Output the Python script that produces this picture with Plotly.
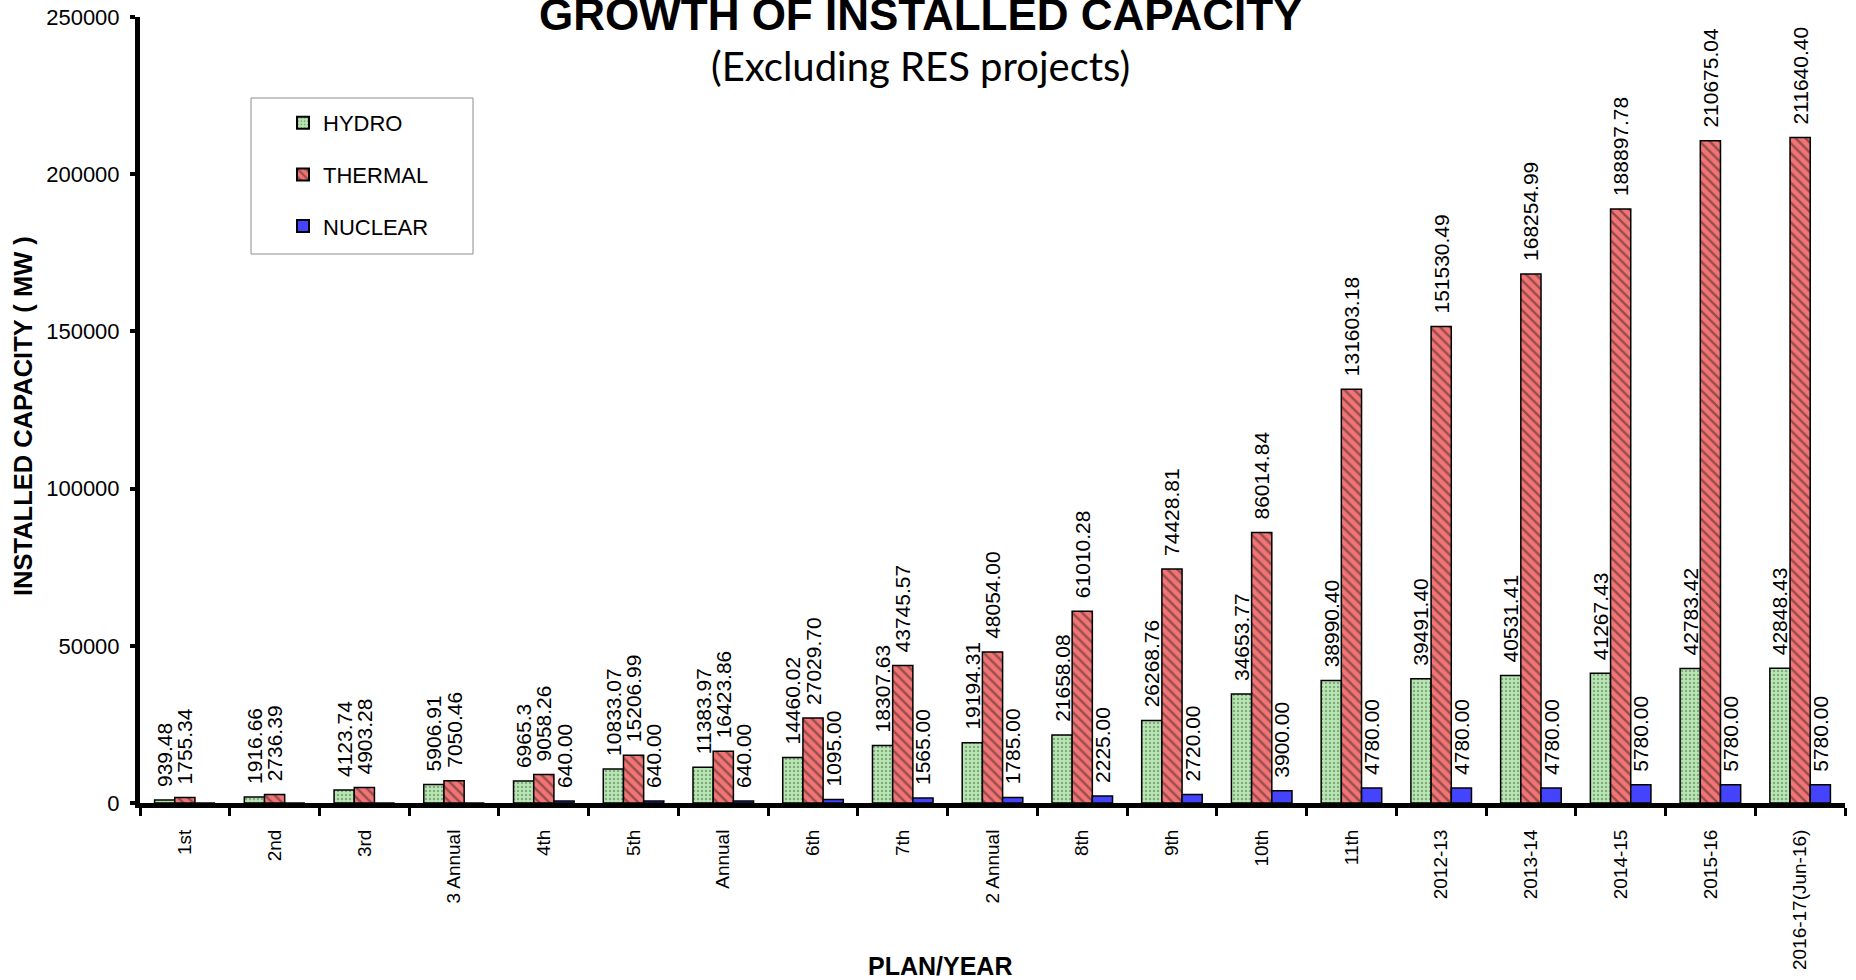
import plotly.graph_objects as go

categories = ["1st", "2nd", "3rd", "3 Annual", "4th", "5th", "Annual", "6th", "7th",
              "2 Annual", "8th", "9th", "10th", "11th", "2012-13", "2013-14",
              "2014-15", "2015-16", "2016-17(Jun-16)"]

hydro = [939.48, 1916.66, 4123.74, 5906.91, 6965.3, 10833.07, 11383.97, 14460.02,
         18307.63, 19194.31, 21658.08, 26268.76, 34653.77, 38990.40, 39491.40,
         40531.41, 41267.43, 42783.42, 42848.43]
thermal = [1755.34, 2736.39, 4903.28, 7050.46, 9058.26, 15206.99, 16423.86, 27029.70,
           43745.57, 48054.00, 61010.28, 74428.81, 86014.84, 131603.18, 151530.49,
           168254.99, 188897.78, 210675.04, 211640.40]
nuclear = [0, 0, 0, 0, 640.00, 640.00, 640.00, 1095.00, 1565.00, 1785.00, 2225.00,
           2720.00, 3900.00, 4780.00, 4780.00, 4780.00, 5780.00, 5780.00, 5780.00]

NB = "\u00a0\u2009"
hydro_text = [NB + (f"{v:.2f}" if i != 4 else f"{v:g}") for i, v in enumerate(hydro)]
thermal_text = [NB + f"{v:.2f}" for v in thermal]
nuclear_text = [NB + f"{v:.2f}" if v > 0 else "" for v in nuclear]

W, H = 1856, 980
L, R, T, B = 140, 11, 17, 177
pw = W - L - R
ph = H - T - B

def px_x(px):
    return (px - L) / pw

def px_y(py):
    return (H - B - py) / ph

label_font = dict(family="Liberation Sans, Arial", size=21, color="black")

common = dict(textposition="outside", textangle=-90, cliponaxis=False,
              constraintext="none", textfont=label_font)

fig = go.Figure()
fig.add_trace(go.Bar(
    name="HYDRO", x=categories, y=hydro, text=hydro_text, legendgroup="h",
    marker=dict(color="#b9e8b4", line=dict(color="black", width=1.5),
                pattern=dict(shape=".", fgcolor="#4d6b4d", size=4, solidity=0.3)),
    **common))
fig.add_trace(go.Bar(
    name="THERMAL", x=categories, y=thermal, text=thermal_text, legendgroup="t",
    marker=dict(color="#f27474", line=dict(color="black", width=1.5),
                pattern=dict(shape="\\", fgcolor="#3a2626", size=7, solidity=0.35)),
    **common))
fig.add_trace(go.Bar(
    name="NUCLEAR", x=categories, y=nuclear, text=nuclear_text, legendgroup="n",
    marker=dict(color="#4444ff", line=dict(color="black", width=1.5)),
    **common))

fig.update_layout(
    width=W, height=H,
    margin=dict(l=L, r=R, t=T, b=B, autoexpand=False),
    paper_bgcolor="white", plot_bgcolor="white",
    barmode="group", bargap=0.325, bargroupgap=0,
    font=dict(family="Liberation Sans, Arial", color="black"),
    showlegend=True,
    legend=dict(x=px_x(283), y=px_y(102),
                xanchor="left", yanchor="top", bgcolor="rgba(0,0,0,0)",
                borderwidth=0, font=dict(size=22, family="Liberation Sans, Arial"),
                tracegroupgap=20, itemsizing="constant"),
    xaxis=dict(showline=True, linewidth=5, linecolor="black", ticks="outside",
               tickson="boundaries", ticklen=8, tickwidth=3, tickcolor="black",
               tickangle=-90, tickfont=dict(size=19), showgrid=False,
               ticklabelstandoff=14, zeroline=False),
    yaxis=dict(range=[0, 250000], dtick=50000, showline=True, linewidth=5,
               linecolor="black", ticks="outside", ticklen=5, tickwidth=4,
               tickcolor="black", tickfont=dict(size=22), showgrid=False,
               zeroline=False, tickformat="d", ticklabelstandoff=6),
    shapes=[dict(type="rect", xref="paper", yref="paper",
                 x0=px_x(251), x1=px_x(473),
                 y0=px_y(254), y1=px_y(98),
                 line=dict(color="#8c8c8c", width=1), fillcolor="rgba(0,0,0,0)")],
    annotations=[
        dict(text="<b>GROWTH OF INSTALLED CAPACITY</b>", xref="paper", yref="paper",
             x=px_x(920), y=px_y(14), xanchor="center", yanchor="middle", showarrow=False,
             font=dict(size=44, family="Liberation Sans, Arial")),
        dict(text="(Excluding RES projects)", xref="paper", yref="paper",
             x=px_x(920), y=px_y(66), xanchor="center", yanchor="middle", showarrow=False,
             font=dict(size=40, family="Lato")),
        dict(text="<b>INSTALLED CAPACITY ( MW )</b>", xref="paper", yref="paper",
             x=px_x(23), y=px_y(416), xanchor="center", yanchor="middle", showarrow=False,
             textangle=-90, font=dict(size=25.5, family="Liberation Sans, Arial")),
        dict(text="<b>PLAN/YEAR</b>", xref="paper", yref="paper",
             x=px_x(940), y=px_y(966), xanchor="center", yanchor="middle", showarrow=False,
             font=dict(size=25, family="Liberation Sans, Arial")),
    ],
)

fig.write_html("out.html", post_script="document.body.style.margin='0';",
               config={"displayModeBar": False})
